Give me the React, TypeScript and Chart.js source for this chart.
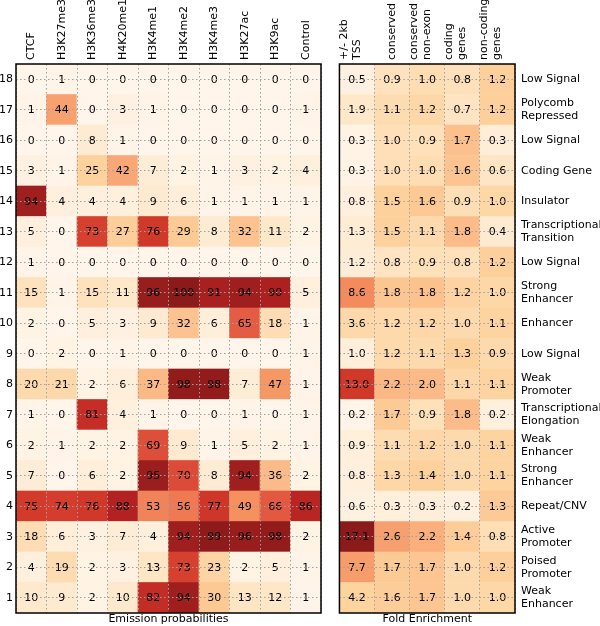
import React, { useEffect, useRef } from "react";
import { Chart, registerables } from "chart.js";
Chart.register(...registerables);

// ---------- data (index 0 = state 1 ... index 17 = state 18) ----------
const states = [1, 2, 3, 4, 5, 6, 7, 8, 9, 10, 11, 12, 13, 14, 15, 16, 17, 18];
const stateNames = [
  "Weak\nEnhancer", "Poised\nPromoter", "Active\nPromoter", "Repeat/CNV", "Strong\nEnhancer",
  "Weak\nEnhancer", "Transcriptional\nElongation", "Weak\nPromoter", "Low Signal", "Enhancer",
  "Strong\nEnhancer", "Low Signal", "Transcriptional\nTransition", "Insulator", "Coding Gene",
  "Low Signal", "Polycomb\nRepressed", "Low Signal",
];
const marks = ["CTCF", "H3K27me3", "H3K36me3", "H4K20me1", "H3K4me1", "H3K4me2", "H3K4me3", "H3K27ac", "H3K9ac", "Control"];
const ctcf = [10, 4, 18, 75, 7, 2, 1, 20, 0, 2, 15, 1, 5, 94, 3, 0, 1, 0];
const h3k27me3 = [9, 19, 6, 74, 0, 1, 0, 21, 2, 0, 1, 0, 0, 4, 1, 0, 44, 1];
const h3k36me3 = [2, 2, 3, 76, 6, 2, 81, 2, 0, 5, 15, 0, 73, 4, 25, 8, 0, 0];
const h4k20me1 = [10, 3, 7, 88, 2, 2, 4, 6, 1, 3, 11, 0, 27, 4, 42, 1, 3, 0];
const h3k4me1 = [82, 13, 4, 53, 95, 69, 1, 37, 0, 9, 96, 0, 76, 9, 7, 0, 1, 0];
const h3k4me2 = [94, 73, 94, 56, 70, 9, 0, 98, 0, 32, 100, 0, 29, 6, 2, 0, 0, 0];
const h3k4me3 = [30, 23, 99, 77, 8, 1, 0, 98, 0, 6, 91, 0, 8, 1, 1, 0, 0, 0];
const h3k27ac = [13, 2, 96, 49, 94, 5, 1, 7, 0, 65, 94, 0, 32, 1, 3, 0, 0, 0];
const h3k9ac = [12, 5, 98, 66, 36, 2, 0, 47, 0, 18, 90, 0, 11, 1, 2, 0, 0, 0];
const control = [1, 1, 2, 86, 2, 1, 1, 1, 1, 1, 5, 0, 2, 1, 4, 0, 1, 0];

const foldCols = ["+/- 2kb\nTSS", "conserved", "conserved\nnon-exon", "coding\ngenes", "non-coding\ngenes"];
const tss = [4.2, 7.7, 17.1, 0.6, 0.8, 0.9, 0.2, 13.0, 1.0, 3.6, 8.6, 1.2, 1.3, 0.8, 0.3, 0.3, 1.9, 0.5];
const conserved = [1.6, 1.7, 2.6, 0.3, 1.3, 1.1, 1.7, 2.2, 1.2, 1.2, 1.8, 0.8, 1.5, 1.5, 1.0, 1.0, 1.1, 0.9];
const conservedNonExon = [1.7, 1.7, 2.2, 0.3, 1.4, 1.2, 0.9, 2.0, 1.1, 1.2, 1.8, 0.9, 1.1, 1.6, 1.0, 0.9, 1.2, 1.0];
const codingGenes = [1.0, 1.0, 1.4, 0.2, 1.0, 1.0, 1.8, 1.1, 1.3, 1.0, 1.2, 0.8, 1.8, 0.9, 1.6, 1.7, 0.7, 0.8];
const nonCodingGenes = [1.0, 1.2, 0.8, 1.3, 1.1, 1.1, 0.2, 1.1, 0.9, 1.1, 1.0, 1.2, 0.4, 1.0, 0.6, 0.3, 1.2, 1.2];

const emissionTable = [ctcf, h3k27me3, h3k36me3, h4k20me1, h3k4me1, h3k4me2, h3k4me3, h3k27ac, h3k9ac, control];
const foldTable = [tss, conserved, conservedNonExon, codingGenes, nonCodingGenes];

// ---------- colour map (OrRd, slightly softened at the dark end) ----------
const ORRD = ["#fff5ea", "#fee6c6", "#fdd29d", "#fbb885", "#f48c5c", "#e8654a", "#d23a2a", "#b52222", "#8b1a1a"];
function hex(c: string) {
  return [parseInt(c.slice(1, 3), 16), parseInt(c.slice(3, 5), 16), parseInt(c.slice(5, 7), 16)];
}
function orrd(t: number) {
  const x = Math.max(0, Math.min(1, t)) * (ORRD.length - 1);
  const i = Math.min(ORRD.length - 2, Math.floor(x));
  const f = x - i;
  const a = hex(ORRD[i]);
  const b = hex(ORRD[i + 1]);
  const m = a.map((v, k) => Math.round(v + (b[k] - v) * f));
  return `rgb(${m[0]},${m[1]},${m[2]})`;
}
const emissionColor = (v: number) => orrd(v / 100);
const globalFoldMax = Math.max(...foldTable.flat());
function foldColor(v: number, col: number[]) {
  const cm = Math.max(...col);
  return orrd((v / cm) * (Math.log(cm + 1) / Math.log(globalFoldMax + 1)));
}

Chart.defaults.font.family = "'DejaVu Sans', sans-serif";
Chart.defaults.color = "#000";

const ROW_H = 549 / 18;
const TICK_LINE_H = 11 * 1.2;

const cellText = (decimals: number) => ({
  id: "cellText",
  afterDatasetsDraw(chart: any) {
    const ctx = chart.ctx;
    ctx.save();
    ctx.font = "11px 'DejaVu Sans', sans-serif";
    ctx.fillStyle = "#000";
    ctx.textAlign = "center";
    ctx.textBaseline = "middle";
    chart.data.datasets.forEach((ds: any, di: number) => {
      const meta = chart.getDatasetMeta(di);
      meta.data.forEach((el: any, j: number) => {
        const v = ds.values[j];
        ctx.fillText(decimals ? v.toFixed(decimals) : String(v), el.x, (el.y + el.base) / 2 + 0.5);
      });
    });
    ctx.restore();
  },
});

const frame = {
  id: "frame",
  afterDraw(chart: any) {
    const { left, top, right, bottom } = chart.chartArea;
    const ctx = chart.ctx;
    ctx.save();
    ctx.strokeStyle = "#000";
    ctx.lineWidth = 1.5;
    ctx.strokeRect(left, top, right - left, bottom - top);
    ctx.restore();
  },
};

const gridOpts = { offset: true, color: "#a0a0a0", lineWidth: 1, drawTicks: false, z: 1 };
const borderOpts = { display: false, dash: [1.5, 2.5] };

function buildConfig(kind: "emission" | "fold"): any {
  const isE = kind === "emission";
  const cols = isE ? marks : foldCols;
  const table = isE ? emissionTable : foldTable;
  const datasets = states.map((s, i) => ({
    data: cols.map(() => [s - 1, s]),
    values: table.map((col) => col[i]),
    backgroundColor: table.map((col) => (isE ? emissionColor(col[i]) : foldColor(col[i], col))),
    borderWidth: 0,
    barPercentage: 1,
    categoryPercentage: 1,
    grouped: false,
  }));
  return {
    type: "bar",
    data: { labels: cols.map((c) => (c.includes("\n") ? c.split("\n") : c)), datasets },
    options: {
      animation: false,
      responsive: true,
      maintainAspectRatio: false,
      events: [],
      layout: { padding: isE ? { left: 0, right: 9, top: 0, bottom: 0 } : { left: 6, right: 0, top: 0, bottom: 0 } },
      plugins: {
        legend: { display: false },
        tooltip: { enabled: false },
        title: {
          display: true,
          text: isE ? "Emission probabilities" : "Fold Enrichment",
          position: "bottom",
          fullSize: false,
          padding: 0,
          color: "#000",
          font: { size: 11, weight: "normal", lineHeight: "13px" },
        },
      },
      scales: {
        x: {
          type: "category",
          position: "top",
          grid: gridOpts,
          border: borderOpts,
          ticks: {
            autoSkip: false,
            maxRotation: 90,
            minRotation: 90,
            padding: 4,
            labelOffset: TICK_LINE_H,
            font: { size: 11 },
          },
          afterFit: (s: any) => {
            s.height = 64;
          },
        },
        y: {
          type: "linear",
          position: isE ? "left" : "right",
          min: 0,
          max: 18,
          grid: gridOpts,
          border: borderOpts,
          ticks: {
            stepSize: 1,
            autoSkip: false,
            labelOffset: ROW_H / 2,
            padding: isE ? 3 : 6,
            font: { size: 11 },
            callback: (v: number) => {
              if (v === 0) return "";
              if (isE) return String(v);
              const n = stateNames[v - 1];
              return n.includes("\n") ? n.split("\n") : n;
            },
          },
          afterFit: (s: any) => {
            s.width = isE ? 16 : 85;
          },
        },
      },
    },
    plugins: [cellText(isE ? 0 : 1), frame],
  };
}

function Heat({ kind, style }: { kind: "emission" | "fold"; style: React.CSSProperties }) {
  const ref = useRef<HTMLCanvasElement>(null);
  useEffect(() => {
    if (!ref.current) return;
    const chart = new Chart(ref.current, buildConfig(kind));
    return () => chart.destroy();
  }, [kind]);
  return (
    <div style={{ position: "absolute", ...style }}>
      <canvas ref={ref} />
    </div>
  );
}

export default function App() {
  return (
    <div style={{ position: "absolute", left: 0, top: 0, width: 600, height: 626, background: "#fff", overflow: "hidden" }}>
      <Heat kind="emission" style={{ left: 0, top: 0, width: 330, height: 626 }} />
      <Heat kind="fold" style={{ left: 326, top: 0, width: 274, height: 626 }} />
    </div>
  );
}
